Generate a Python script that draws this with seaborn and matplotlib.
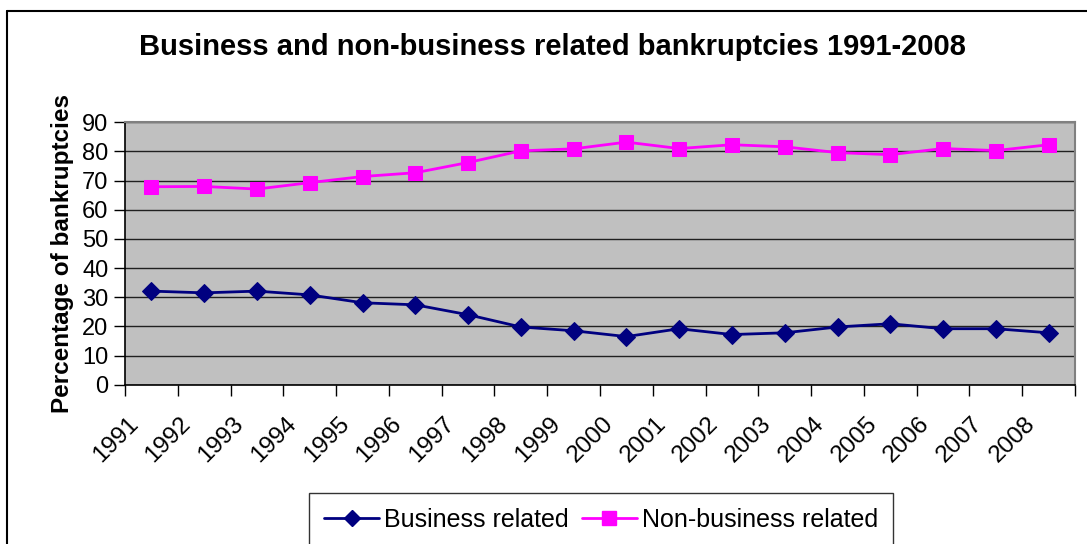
import numpy as np
import pandas as pd
import matplotlib
matplotlib.use('Agg')
import matplotlib.pyplot as plt
import matplotlib.transforms as mtransforms
from matplotlib.lines import Line2D
import seaborn as sns

# Values
years = [str(y) for y in range(1991, 2009)]
business = [32.1, 31.5, 32.1, 30.8, 28.1, 27.4, 24.0, 19.8, 18.5,
            16.5, 19.2, 17.2, 17.8, 19.8, 20.9, 19.2, 19.2, 17.8]
non_business = [67.9, 68.0, 67.1, 69.3, 71.4, 72.7, 76.2, 80.2, 80.9,
                83.2, 81.0, 82.3, 81.6, 79.6, 78.9, 81.0, 80.3, 82.3]

df = pd.DataFrame({'pos': np.arange(len(years)), 'year': years,
                   'Business related': business,
                   'Non-business related': non_business})

sns.set_style('white')
plt.rcParams['font.family'] = ['Liberation Sans', 'DejaVu Sans']
plt.rcParams['text.color'] = 'black'
plt.rcParams['axes.labelcolor'] = 'black'
plt.rcParams['xtick.color'] = 'black'
plt.rcParams['ytick.color'] = 'black'

fig = plt.figure(figsize=(10.87, 5.44), dpi=100)
ax = fig.add_axes([125 / 1087, 1 - 384.7 / 544, 950 / 1087, 262.4 / 544])
ax.set_facecolor('#C0C0C0')

sns.lineplot(data=df, x='pos', y='Business related', ax=ax, color='#000080',
             linewidth=2, marker='D', markersize=9, markeredgecolor='#000080')
sns.lineplot(data=df, x='pos', y='Non-business related', ax=ax, color='#FF00FF',
             linewidth=2, marker='s', markersize=10, markeredgecolor='#FF00FF')

ax.set_xlim(-0.5, len(years) - 0.5)
ax.set_ylim(0, 90)
ax.set_yticks(range(0, 91, 10))
ax.yaxis.grid(True, color='#202020', linewidth=1)
ax.set_axisbelow(True)

# tick marks on category boundaries, labels on category centres
ax.set_xticks(np.arange(-0.5, len(years), 1))
ax.set_xticklabels([])
ax.set_xticks(np.arange(len(years)), minor=True)
ax.set_xticklabels(years, minor=True, rotation=45, ha='right', va='top')
ax.tick_params(axis='x', which='major', direction='out', length=8, width=1,
               color='black', bottom=True)
ax.tick_params(axis='x', which='minor', length=0, pad=20, labelsize=17.5)
ax.tick_params(axis='y', direction='out', length=8, width=1, color='black',
               left=True, labelsize=17, pad=4)
shift = mtransforms.ScaledTranslation(-9 / 100, 0, fig.dpi_scale_trans)
for lab in ax.get_xticklabels(minor=True):
    lab.set_transform(lab.get_transform() + shift)

for side in ['left', 'bottom']:
    ax.spines[side].set_color('black')
    ax.spines[side].set_linewidth(1.2)
for side in ['top', 'right']:
    ax.spines[side].set_color('#808080')
    ax.spines[side].set_linewidth(1.5)

ax.set_xlabel('')
ax.set_ylabel('Percentage of bankruptcies', fontsize=17.5, fontweight='bold',
              labelpad=6)
fig.text(552 / 1087, 1 - 47 / 544,
         'Business and non-business related bankruptcies 1991-2008',
         ha='center', va='center', fontsize=21, fontweight='bold')

handles = [Line2D([], [], color='#000080', linewidth=2, marker='D', markersize=8),
           Line2D([], [], color='#FF00FF', linewidth=2, marker='s', markersize=10)]
leg = fig.legend(handles, ['Business related', 'Non-business related'],
                 loc='center', bbox_to_anchor=(601 / 1087, 1 - 520 / 544),
                 ncol=2, fontsize=18, frameon=True, fancybox=False,
                 handlelength=2.2, handletextpad=0.2, columnspacing=0.5,
                 borderpad=0.6, edgecolor='black')
leg.get_frame().set_linewidth(1)

# outer chart border
fig.add_artist(Line2D([7 / 1087, 1.0], [1 - 11 / 544, 1 - 11 / 544],
                      transform=fig.transFigure, color='black', linewidth=1.5))
fig.add_artist(Line2D([7 / 1087, 7 / 1087], [0.0, 1 - 11 / 544],
                      transform=fig.transFigure, color='black', linewidth=1.5))

fig.savefig('out.png', dpi=100)
